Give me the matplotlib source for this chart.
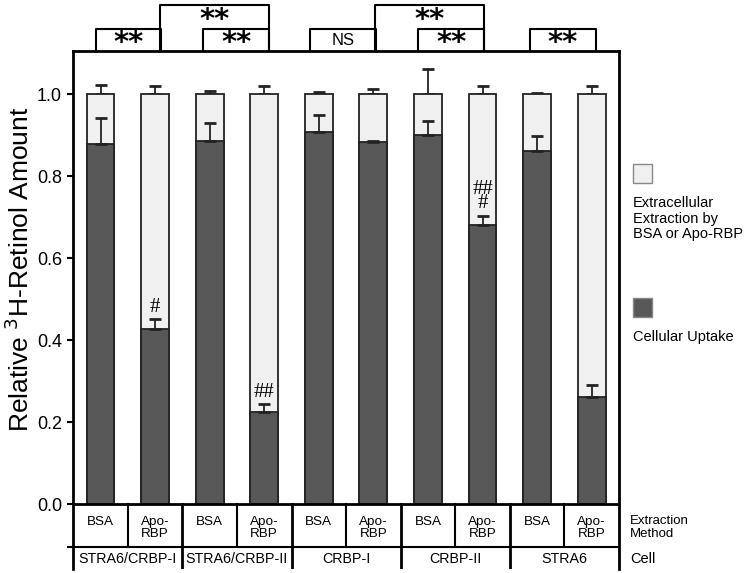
import numpy as np
import matplotlib
matplotlib.use('Agg')
from matplotlib import pyplot as plt
from matplotlib.patches import Rectangle

plt.rcParams['font.family'] = ['Liberation Sans', 'DejaVu Sans']

# cellular uptake fraction and its (upper) error, total = 1.0 with upper error
methods = ['BSA', 'Apo-\nRBP'] * 5
cells = ['STRA6/CRBP-I', 'STRA6/CRBP-II', 'CRBP-I', 'CRBP-II', 'STRA6']
uptake = np.array([0.878, 0.427, 0.886, 0.225, 0.908, 0.883, 0.900, 0.680, 0.862, 0.261])
uptake_err = np.array([0.063, 0.024, 0.043, 0.019, 0.040, 0.003, 0.034, 0.023, 0.035, 0.029])
total = np.ones(10)
total_err = np.array([0.022, 0.019, 0.008, 0.019, 0.005, 0.012, 0.061, 0.019, 0.002, 0.019])
marks = {1: '#', 3: '##', 7: '##\n#'}

# significance boxes: (left, right, level, label)
boxes = [(-0.08, 1.11, 0, '**'), (1.88, 3.09, 0, '**'), (1.09, 3.09, 1, '**'),
         (3.84, 5.05, 0, 'NS'), (5.82, 7.03, 0, '**'), (5.03, 7.03, 1, '**'),
         (7.87, 9.08, 0, '**')]

dark = '#575757'
light = '#f0f0f0'
edge = '#222222'

fig = plt.figure(figsize=(7.5, 5.73), dpi=100)
ax = fig.add_axes([73 / 750, 1 - 569 / 573, 546 / 750, 518 / 573])
ybot, ytop = -0.1585, 1.105
ax.set_xlim(-0.504, 9.5)
ax.set_ylim(ybot, ytop)

x = np.arange(10)
w = 0.51
ax.bar(x, total, w, color=light, edgecolor=edge, linewidth=1.3, zorder=2)
ax.errorbar(x, total, yerr=[np.zeros(10), total_err], fmt='none', ecolor=edge,
            elinewidth=1.3, capsize=4, capthick=2, zorder=1)
ax.bar(x, uptake, w, color=dark, edgecolor=edge, linewidth=1.3, zorder=3)
ax.errorbar(x, uptake, yerr=[np.zeros(10), uptake_err], fmt='none', ecolor=edge,
            elinewidth=1.3, capsize=4, capthick=2, zorder=4)

for i, m in marks.items():
    ax.text(x[i], uptake[i] + uptake_err[i] + 0.006, m, ha='center', va='bottom',
            multialignment='center', fontsize=15, family='Liberation Serif',
            linespacing=0.65, zorder=5)

# frame
for s in ['left', 'right', 'top']:
    ax.spines[s].set_linewidth(2)
ax.spines['bottom'].set_visible(False)
ax.axhline(0, color='black', lw=2, zorder=6)
ax.axhline(-0.105, color='black', lw=1.5, zorder=6)
ax.set_xticks([])
ax.set_yticks([-0.105, 0, 0.2, 0.4, 0.6, 0.8, 1.0])
ax.set_yticklabels(['', '0.0', '0.2', '0.4', '0.6', '0.8', '1.0'], fontsize=13)
ax.tick_params(axis='y', direction='out', length=4, width=1.5, pad=4)

# table below the bars
for k in range(9):
    xs = k + 0.5
    if k % 2 == 0:
        ax.plot([xs, xs], [0, -0.105], color='black', lw=1.5, zorder=6)
    else:
        ax.plot([xs, xs], [0, ybot], color='black', lw=2, zorder=6)
for i in range(10):
    if i % 2 == 0:
        ax.text(x[i], -0.044, methods[i], ha='center', va='center', fontsize=9.7)
    else:
        ax.text(x[i], -0.059, methods[i], ha='center', va='center', fontsize=9.7,
                linespacing=0.95)
for g in range(5):
    ax.text(2 * g + 0.5, -0.133, cells[g], ha='center', va='center', fontsize=10.3)
ax.text(9.7, -0.057, 'Extraction\nMethod', ha='left', va='center', fontsize=9.5,
        linespacing=1.05)
ax.text(9.7, -0.135, 'Cell', ha='left', va='center', fontsize=10.5)

# significance boxes
levels = [ytop, 1.159, 1.217]
centers = [1.130, 1.188]
for l, r, lev, lab in boxes:
    lo, hi = ytop, levels[lev + 1]
    ax.plot([l, l, r, r], [lo, hi, hi, lo], color='black', lw=1.5, clip_on=False)
    if lab == 'NS':
        ax.text((l + r) / 2, centers[lev], lab, ha='center', va='center', fontsize=12)
    else:
        ax.text((l + r) / 2, centers[lev] - 0.026, lab, ha='center', va='baseline',
                fontsize=21, fontweight='bold', family='DejaVu Sans')

# y label
fig.text(20 / 750, 1 - 269 / 573, 'Relative $^3$H-Retinol Amount', rotation=90,
         ha='center', va='center', fontsize=19)

# legend
fig.add_artist(Rectangle((633 / 750, 1 - 183 / 573), 19 / 750, 19 / 573,
                         facecolor=light, edgecolor='#888888', lw=1))
fig.text(633 / 750, 1 - 196 / 573, 'Extracellular\nExtraction by\nBSA or Apo-RBP',
         ha='left', va='top', fontsize=10.5, linespacing=1.15)
fig.add_artist(Rectangle((633 / 750, 1 - 317 / 573), 19 / 750, 19 / 573,
                         facecolor=dark, edgecolor='#888888', lw=1))
fig.text(633 / 750, 1 - 337 / 573, 'Cellular Uptake', ha='left', va='center',
         fontsize=10.5)

fig.savefig('out.png', dpi=100)
